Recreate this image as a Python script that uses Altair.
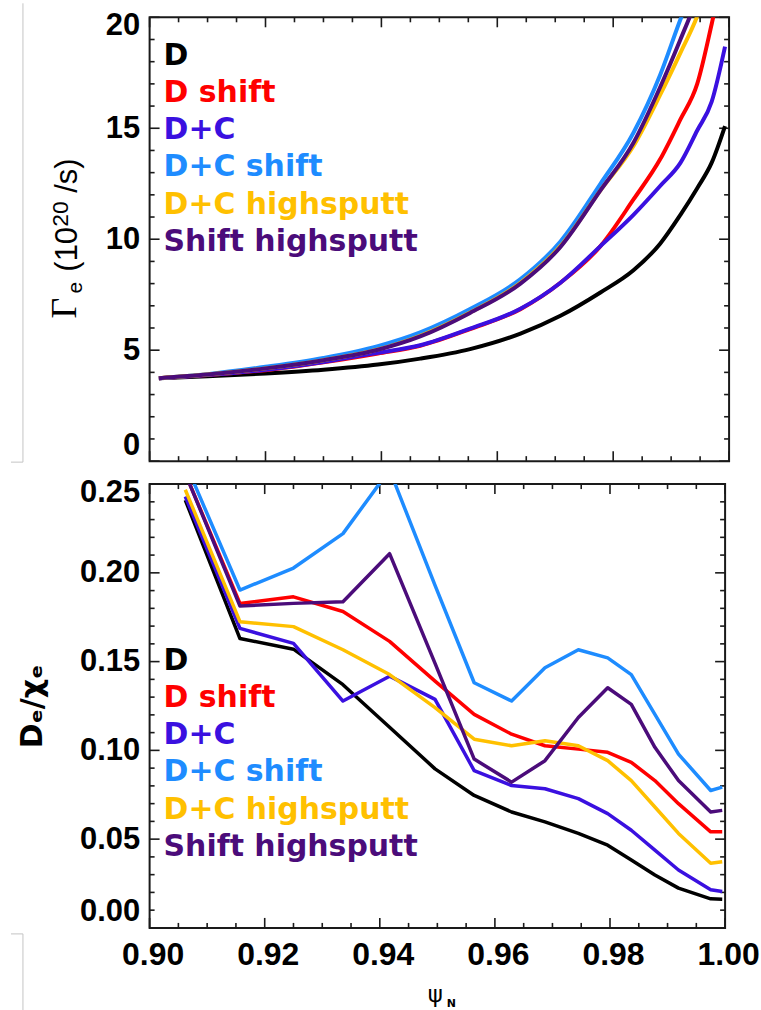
import altair as alt
import pandas as pd

# ---- series definitions -------------------------------------------------
series_names = ["D", "D shift", "D+C", "D+C shift", "D+C highsputt", "Shift highsputt"]
series_colors = ["#000000", "#ff0000", "#3a10e0", "#1e8cff", "#ffc000", "#4b0c7a"]

# ---- particle flux Gamma_e (10^20 /s) vs psi_N ---------------------------
psi_flux = [0.9016, 0.910, 0.920, 0.930, 0.9394, 0.9467, 0.9553, 0.9640,
            0.9709, 0.9778, 0.9835, 0.9881, 0.9916, 0.9945, 0.9970, 0.9993]
flux_D = [3.74, 3.82, 3.95, 4.12, 4.35, 4.62, 5.05, 5.75,
          6.55, 7.60, 8.60, 9.80, 11.10, 12.30, 13.45, 15.10]
flux_D_shift = [3.74, 3.88, 4.10, 4.45, 4.85, 5.20, 5.95, 6.85,
                8.04, 9.69, 11.79, 13.60, 15.40, 17.00, 19.70, 22.50]
flux_DC = [3.74, 3.88, 4.12, 4.47, 4.88, 5.22, 5.97, 6.87,
           8.04, 9.69, 11.10, 12.40, 13.44, 14.90, 16.20, 18.68]
flux_DC_shift = [3.74, 3.92, 4.25, 4.65, 5.18, 5.80, 6.85, 8.20,
                 9.90, 12.50, 14.80, 17.40, 19.90, 21.80, 24.00, 26.00]
flux_DC_highsputt = [3.74, 3.90, 4.18, 4.55, 5.03, 5.65, 6.70, 8.04,
                     9.69, 12.20, 14.20, 16.50, 18.40, 20.05, 22.00, 24.00]
flux_shift_highsputt = [3.74, 3.90, 4.18, 4.55, 5.02, 5.62, 6.68, 8.00,
                        9.65, 12.20, 14.35, 16.85, 19.00, 20.90, 23.00, 25.00]

# ---- transport ratio D_e / chi_e vs psi_N --------------------------------
psi_ratio = [0.9062, 0.9157, 0.9250, 0.9336, 0.9417, 0.9496, 0.9564, 0.9629,
             0.9687, 0.9745, 0.9796, 0.9837, 0.9878, 0.9919, 0.9975, 0.9995]
ratio_D = [0.241, 0.163, 0.157, 0.137, 0.113, 0.0896, 0.0746, 0.0653,
           0.0597, 0.0532, 0.0466, 0.0382, 0.0298, 0.0224, 0.0164, 0.0162]
ratio_D_shift = [0.256, 0.1828, 0.1865, 0.1782, 0.1614, 0.139, 0.1203, 0.1091,
                 0.1026, 0.1007, 0.0989, 0.0933, 0.083, 0.070, 0.0541, 0.0541]
ratio_DC = [0.243, 0.1687, 0.1603, 0.1278, 0.1418, 0.1287, 0.0886, 0.0802,
            0.0784, 0.0728, 0.0644, 0.055, 0.0438, 0.0326, 0.0215, 0.0205]
ratio_DC_shift = [0.262, 0.1903, 0.2027, 0.2221, 0.258, 0.193, 0.1381, 0.1278,
                  0.1465, 0.1567, 0.1521, 0.1427, 0.1203, 0.0979, 0.0774, 0.0793]
ratio_DC_highsputt = [0.2468, 0.1725, 0.1697, 0.1567, 0.1427, 0.1241, 0.1063, 0.1026,
                      0.1054, 0.1026, 0.0942, 0.083, 0.0681, 0.0532, 0.0364, 0.0373]
ratio_shift_highsputt = [0.256, 0.1813, 0.1828, 0.1837, 0.2108, 0.149, 0.0951, 0.0821,
                         0.0942, 0.1185, 0.1353, 0.1259, 0.1017, 0.083, 0.0653, 0.0662]

flux_series = [flux_D, flux_D_shift, flux_DC, flux_DC_shift, flux_DC_highsputt, flux_shift_highsputt]
ratio_series = [ratio_D, ratio_D_shift, ratio_DC, ratio_DC_shift, ratio_DC_highsputt, ratio_shift_highsputt]

# ---- tick positions ----------------------------------------------------------
psi_major = [0.90, 0.92, 0.94, 0.96, 0.98, 1.00]
psi_minor = [0.905, 0.91, 0.915, 0.925, 0.93, 0.935, 0.945, 0.95, 0.955,
             0.965, 0.97, 0.975, 0.985, 0.99, 0.995]
flux_major = [0, 5, 10, 15, 20]
flux_minor = [1, 2, 3, 4, 6, 7, 8, 9, 11, 12, 13, 14, 16, 17, 18, 19]
ratio_major = [0.0, 0.05, 0.10, 0.15, 0.20, 0.25]
ratio_minor = [0.01, 0.02, 0.03, 0.04, 0.06, 0.07, 0.08, 0.09, 0.11, 0.12, 0.13, 0.14,
               0.16, 0.17, 0.18, 0.19, 0.21, 0.22, 0.23, 0.24]

# Gamma_e title pieces: text, font, size, baseline x, start y (rotated, reading upward)
flux_title_parts = [
    ("Γ", "Liberation Serif", 36, -74, 302),
    ("e", "Liberation Sans", 21, -68, 277),
    ("(10", "Liberation Sans", 31, -73, 255),
    ("20", "Liberation Sans", 23, -82, 210),
    ("/s)", "Liberation Sans", 31, -73, 176),
]

FRAME = "#1a1a1a"
CROP = "#c4c4c4"
TICK_FONT = "Liberation Sans"
LEGEND_FONT = "DejaVu Sans"


def one_row(**kw):
    return pd.DataFrame({k: [v] for k, v in kw.items()})


def make_panel(psi, series, w, h, y_domain, y_major, y_minor, y_format,
               y_title, legend_y0, interp, line_w, show_x_axis):
    x_axis = alt.Axis(values=psi_major, format=".2f", ticks=False, tickSize=0,
                      domain=False, grid=False, labelFont=TICK_FONT,
                      labelFontWeight="bold", labelFontSize=32, labelColor="black",
                      labelPadding=12, labelOffset=3, labelFlush=False,
                      title=None) if show_x_axis else None
    if y_title:
        title_kw = dict(title=y_title, titleFont=LEGEND_FONT, titleFontWeight="bold",
                        titleFontSize=30, titleColor="black", titleAngle=270,
                        titleAlign="center", titleBaseline="middle",
                        titleX=-117, titleY=h / 2)
    else:
        title_kw = dict(title=None)
    # the top-most label sits flush against the upper frame edge
    top_value = y_major[-1]
    y_axis = alt.Axis(values=y_major, format=y_format, ticks=False, tickSize=0,
                      domain=False, grid=False, labelFont=TICK_FONT,
                      labelFontWeight="bold", labelFontSize=31, labelColor="black",
                      labelPadding=10, labelFlush=True,
                      labelOffset={"condition": {"test": f"datum.value >= {top_value}",
                                                 "value": -7},
                                   "value": 0},
                      **title_kw)
    xs = alt.Scale(domain=[0.90, 1.00], nice=False, zero=False)
    ys = alt.Scale(domain=y_domain, nice=False, zero=False)

    def X(field):
        return alt.X(field, type="quantitative", scale=xs, axis=x_axis)

    def Y(field):
        return alt.Y(field, type="quantitative", scale=ys, axis=y_axis)

    layers = []
    # frame ticks, pointing inward on all four sides
    for vals, length in ((psi_major, 10), (psi_minor, 5)):
        d = pd.DataFrame({"psi": vals})
        base = alt.Chart(d).mark_rule(color=FRAME, strokeWidth=1.6)
        layers.append(base.encode(x=X("psi"), y=alt.value(h), y2=alt.value(h - length)))
        layers.append(base.encode(x=X("psi"), y=alt.value(0), y2=alt.value(length)))
    for vals, length in ((y_major, 10), (y_minor, 5)):
        d = pd.DataFrame({"val": vals})
        base = alt.Chart(d).mark_rule(color=FRAME, strokeWidth=1.6)
        layers.append(base.encode(y=Y("val"), x=alt.value(0), x2=alt.value(length)))
        layers.append(base.encode(y=Y("val"), x=alt.value(w), x2=alt.value(w - length)))

    # one line per case, drawn in legend order
    for name, color, vals in zip(series_names, series_colors, series):
        d = pd.DataFrame({"psi": psi, "val": vals, "case": name})
        layers.append(
            alt.Chart(d).mark_line(color=color, strokeWidth=line_w, clip=True,
                                   interpolate=interp, strokeJoin="round")
            .encode(x=X("psi"), y=Y("val"), order="psi:Q")
        )

    # coloured case labels
    for i, (name, color) in enumerate(zip(series_names, series_colors)):
        layers.append(
            alt.Chart(one_row(label=name)).mark_text(
                align="left", baseline="alphabetic", font=LEGEND_FONT,
                fontWeight="bold", fontSize=30, color=color)
            .encode(x=alt.value(14), y=alt.value(legend_y0 + i * 37.3), text="label:N")
        )

    if show_x_axis:
        # x-axis title: psi with subscript N
        layers.append(
            alt.Chart(one_row(t="ψ")).mark_text(font="DejaVu Sans", fontSize=23,
                                                align="center", baseline="alphabetic",
                                                color="black")
            .encode(x=alt.value(w / 2 - 2), y=alt.value(h + 74), text="t:N")
        )
        layers.append(
            alt.Chart(one_row(t="N")).mark_text(font="DejaVu Sans", fontWeight="bold",
                                                fontSize=11, align="center",
                                                baseline="alphabetic", color="black")
            .encode(x=alt.value(w / 2 + 14), y=alt.value(h + 79), text="t:N")
        )
    return layers


# ---- upper panel: particle flux ----------------------------------------
top_layers = make_panel(psi_flux, flux_series, 581, 445, [0, 20], flux_major,
                        flux_minor, "d", None, 47.7, "monotone", 4, False)
for text, font, size, bx, sy in flux_title_parts:
    top_layers.append(
        alt.Chart(one_row(t=text)).mark_text(font=font, fontSize=size, angle=270,
                                             align="left", baseline="alphabetic",
                                             color="black")
        .encode(x=alt.value(bx), y=alt.value(sy), text="t:N")
    )
# thin crop guide at the left margin
top_layers.append(
    alt.Chart(one_row(k=1)).mark_rule(color=CROP, strokeWidth=1)
    .encode(x=alt.value(-127), y=alt.value(-14), y2=alt.value(446))
)
top_layers.append(
    alt.Chart(one_row(k=1)).mark_rule(color=CROP, strokeWidth=1)
    .encode(x=alt.value(-139), x2=alt.value(-127), y=alt.value(446))
)
top = alt.layer(*top_layers).properties(width=581, height=445)

# ---- lower panel: D_e / chi_e -------------------------------------------
bot_layers = make_panel(psi_ratio, ratio_series, 577, 445, [0, 0.25], ratio_major,
                        ratio_minor, ".2f", "Dₑ/χₑ", 186.3, "linear", 3.5, True)
bot_layers.append(
    alt.Chart(one_row(k=1)).mark_rule(color=CROP, strokeWidth=1)
    .encode(x=alt.value(-139), x2=alt.value(-127), y=alt.value(451))
)
bot_layers.append(
    alt.Chart(one_row(k=1)).mark_rule(color=CROP, strokeWidth=1)
    .encode(x=alt.value(-127), y=alt.value(451), y2=alt.value(540))
)
bottom = alt.layer(*bot_layers).properties(width=577, height=445)

# the raised top label of the lower panel reaches 7 px above its frame
chart = (
    alt.vconcat(top, bottom, spacing=11)
    .properties(padding={"left": 9, "top": 0, "right": 0, "bottom": 0},
                background="white")
    .configure_view(stroke=FRAME, strokeWidth=2)
)

chart.save("out.html", embed_options={"renderer": "svg", "actions": False})
